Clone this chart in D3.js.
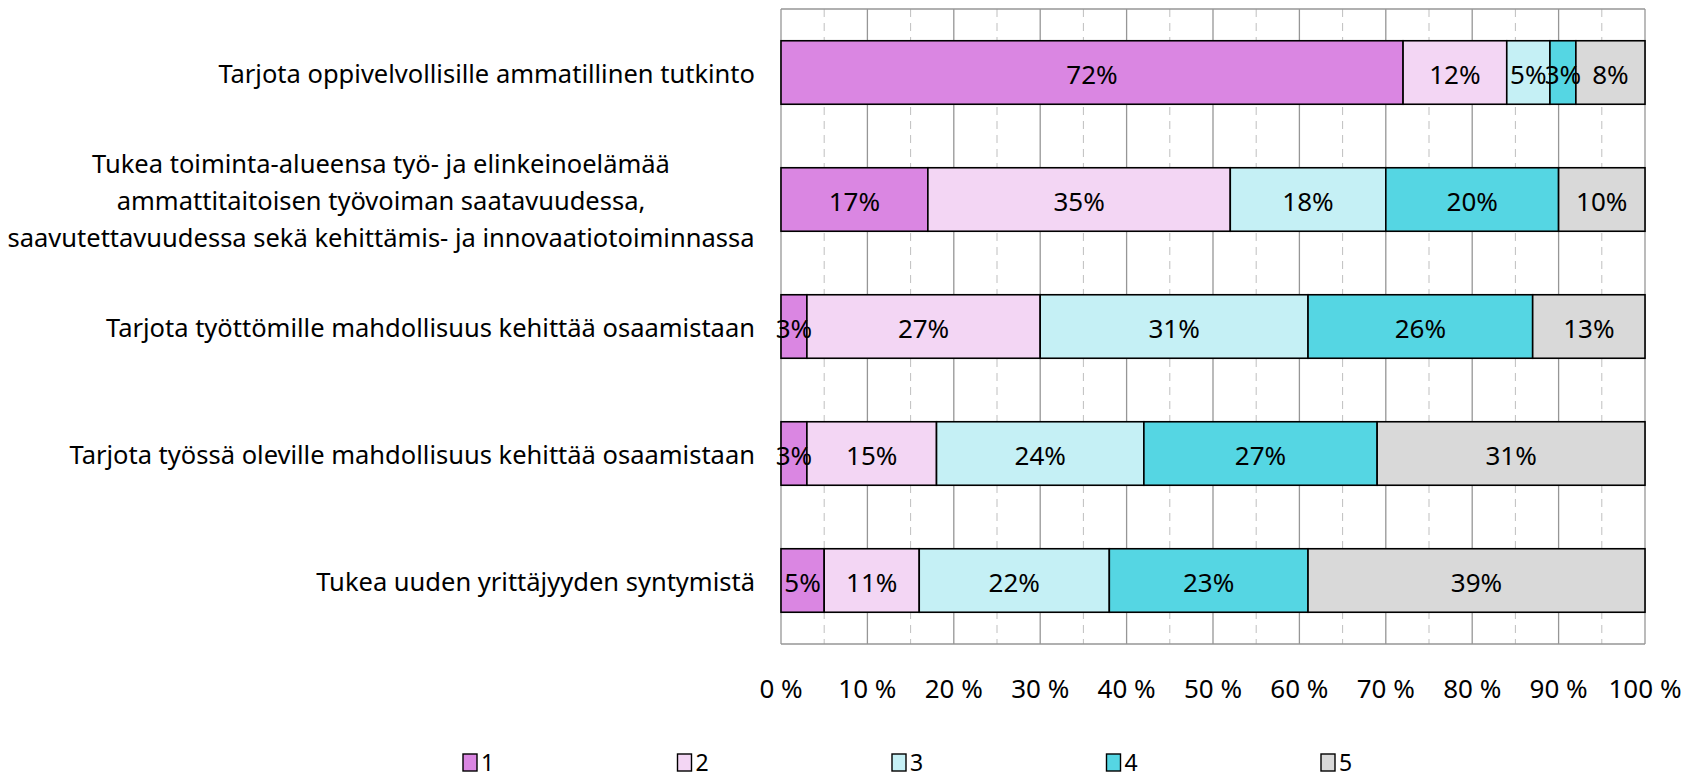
<!DOCTYPE html>
<html>
<head>
<meta charset="utf-8">
<script src="https://cdn.jsdelivr.net/npm/d3@7"></script>
<style>
  html, body { margin: 0; padding: 0; background: #fff; }
  svg { display: block; }
</style>
</head>
<body>
<div id="chart"></div>
<script>
const categories = [
  ['Tarjota oppivelvollisille ammatillinen tutkinto'],
  ['Tukea toiminta-alueensa työ- ja elinkeinoelämää', 'ammattitaitoisen työvoiman saatavuudessa,', 'saavutettavuudessa sekä kehittämis- ja innovaatiotoiminnassa'],
  ['Tarjota työttömille mahdollisuus kehittää osaamistaan'],
  ['Tarjota työssä oleville mahdollisuus kehittää osaamistaan'],
  ['Tukea uuden yrittäjyyden syntymistä']
];
const seriesNames = ['1', '2', '3', '4', '5'];
const s1 = [72, 17, 3, 3, 5];
const s2 = [12, 35, 27, 15, 11];
const s3 = [5, 18, 31, 24, 22];
const s4 = [3, 20, 26, 27, 23];
const s5 = [8, 10, 13, 31, 39];
const xTicks = [0, 10, 20, 30, 40, 50, 60, 70, 80, 90, 100];

const colors = ['#da86e2', '#f3d6f4', '#c5f0f5', '#55d6e3', '#d9d9d9'];
const FONT = 'Noto Sans, sans-serif';

const W = 1698, H = 779;
const plotL = 781, plotR = 1645, plotT = 9, plotB = 644;

const svg = d3.select('#chart').append('svg').attr('width', W).attr('height', H);

const rows = categories.map((c, i) => ({ idx: i, v: [s1[i], s2[i], s3[i], s4[i], s5[i]] }));
const stack = d3.stack().keys([0, 1, 2, 3, 4]).value((d, k) => d.v[k]);
const layers = stack(rows);

const x = d3.scaleLinear().domain([0, 100]).range([plotL, plotR]);
const y = d3.scaleBand().domain(d3.range(categories.length)).range([plotT, plotB]).paddingInner(0.5).paddingOuter(0.25);

// ── grid ─────────────────────────────────────────────────────────────────
const minor = d3.range(5, 100, 10);
svg.append('g').selectAll('line').data(minor).join('line')
  .attr('x1', d => x(d)).attr('x2', d => x(d))
  .attr('y1', plotT).attr('y2', plotB)
  .attr('stroke', '#bfbfbf').attr('stroke-width', 1).attr('stroke-dasharray', '8,6');

svg.append('g').selectAll('line').data(xTicks).join('line')
  .attr('x1', d => x(d)).attr('x2', d => x(d))
  .attr('y1', plotT).attr('y2', plotB)
  .attr('stroke', '#969696').attr('stroke-width', 1.3);

svg.append('line').attr('x1', plotL).attr('x2', plotR).attr('y1', plotT).attr('y2', plotT)
  .attr('stroke', '#969696').attr('stroke-width', 1.3);
svg.append('line').attr('x1', plotL).attr('x2', plotR).attr('y1', plotB).attr('y2', plotB)
  .attr('stroke', '#969696').attr('stroke-width', 1.3);

// ── bars ─────────────────────────────────────────────────────────────────
layers.forEach((layer, k) => {
  const g = svg.append('g');
  g.selectAll('rect').data(layer).join('rect')
    .attr('x', d => x(d[0]))
    .attr('y', d => y(d.data.idx))
    .attr('width', d => x(d[1]) - x(d[0]))
    .attr('height', y.bandwidth())
    .attr('fill', colors[k])
    .attr('stroke', '#000')
    .attr('stroke-width', 1.6);
});

layers.forEach((layer, k) => {
  svg.append('g').selectAll('text').data(layer).join('text')
    .attr('x', d => (x(d[0]) + x(d[1])) / 2)
    .attr('y', d => y(d.data.idx) + y.bandwidth() / 2 + 1)
    .attr('text-anchor', 'middle')
    .attr('dominant-baseline', 'central')
    .attr('font-family', FONT)
    .attr('font-size', '26px')
    .attr('fill', '#000')
    .text(d => d.data.v[k] + '%');
});

// ── category labels ──────────────────────────────────────────────────────
const LINE_H = 37;
categories.forEach((lines, i) => {
  const cy = y(i) + y.bandwidth() / 2;
  const t = svg.append('text')
    .attr('font-family', FONT)
    .attr('font-size', '25.5px')
    .attr('fill', '#000');
  // multi-line labels are centered as a block; single lines right-aligned
  const isMulti = lines.length > 1;
  lines.forEach((ln, j) => {
    t.append('tspan')
      .attr('x', isMulti ? 381 : 755)
      .attr('text-anchor', isMulti ? 'middle' : 'end')
      .attr('y', cy + (j - (lines.length - 1) / 2) * LINE_H)
      .attr('dominant-baseline', 'central')
      .text(ln);
  });
});

// ── x-axis labels ────────────────────────────────────────────────────────
svg.append('g').selectAll('text').data(xTicks).join('text')
  .attr('x', d => x(d))
  .attr('y', 688)
  .attr('text-anchor', 'middle')
  .attr('dominant-baseline', 'central')
  .attr('font-family', FONT)
  .attr('font-size', '26px')
  .attr('fill', '#000')
  .text(d => d + ' %');

// ── legend ───────────────────────────────────────────────────────────────
const legendX = d3.scalePoint().domain(seriesNames).range([463, 1321]);
const lg = svg.append('g').selectAll('g').data(seriesNames).join('g')
  .attr('transform', d => `translate(${legendX(d)}, 761)`);
lg.append('rect')
  .attr('x', 0).attr('y', -7).attr('width', 14).attr('height', 17)
  .attr('fill', (d, i) => colors[i])
  .attr('stroke', '#000').attr('stroke-width', 1.4);
lg.append('text')
  .attr('x', 18).attr('y', 1)
  .attr('dominant-baseline', 'central')
  .attr('font-family', FONT)
  .attr('font-size', '23px')
  .attr('fill', '#000')
  .text(d => d);
</script>
</body>
</html>
